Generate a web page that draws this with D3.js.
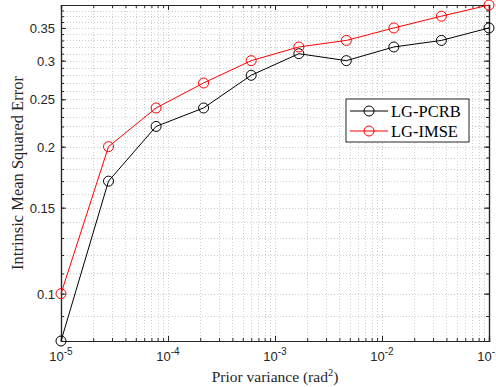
<!DOCTYPE html>
<html>
<head>
<meta charset="utf-8">
<script src="https://cdn.jsdelivr.net/npm/d3@7"></script>
<style>
  body { margin: 0; background: #fff; }
  svg { display: block; }
</style>
</head>
<body>
<svg id="chart" width="496" height="387"></svg>
<script>
// ---- data ----
var priorVar = [1e-5, 2.78e-5, 7.74e-5, 2.15e-4, 5.99e-4, 1.67e-3, 4.64e-3, 1.29e-2, 3.59e-2, 1e-1];
var pcrb = [0.08, 0.17, 0.22, 0.24, 0.28, 0.31, 0.30, 0.32, 0.33, 0.35];
var imse = [0.10, 0.20, 0.24, 0.27, 0.30, 0.32, 0.33, 0.35, 0.37, 0.39];
var seriesNames = ["LG-PCRB", "LG-IMSE"];
var seriesColors = ["#000000", "#ff0000"];

var xMajor = [1e-5, 1e-4, 1e-3, 1e-2, 1e-1];
var xExp = ["-5", "-4", "-3", "-2", "-1"];
var yMajor = [0.1, 0.15, 0.2, 0.25, 0.3, 0.35];
var yLabels = ["0.1", "0.15", "0.2", "0.25", "0.3", "0.35"];
var yMinor = [0.08, 0.09, 0.1, 0.11, 0.12, 0.13, 0.14, 0.15, 0.16, 0.17, 0.18, 0.19, 0.2,
  0.21, 0.22, 0.23, 0.24, 0.25, 0.26, 0.27, 0.28, 0.29, 0.3, 0.31, 0.32, 0.33, 0.34, 0.35,
  0.36, 0.37, 0.38, 0.39];
var xMinor = [];
[1e-5, 1e-4, 1e-3, 1e-2].forEach(function(d) {
  [2, 3, 4, 5, 6, 7, 8, 9].forEach(function(m) { xMinor.push(d * m); });
});

// ---- layout ----
var axL = 61, axR = 489, axT = 5, axB = 341;
var svg = d3.select("#chart");

var x = d3.scaleLog().domain([1e-5, 1e-1]).range([axL, axR]);
var y = d3.scaleLog().domain([0.08, 0.39]).range([axB, axT]);

// ---- grid (dotted) ----
var grid = svg.append("g").attr("class", "grid");
grid.selectAll(".gx").data(xMinor.concat(xMajor)).enter().append("line")
  .attr("x1", function(d) { return Math.round(x(d)) + 0.5; })
  .attr("x2", function(d) { return Math.round(x(d)) + 0.5; })
  .attr("y1", axT).attr("y2", axB)
  .attr("stroke", "#cfcfcf")
  .attr("stroke-width", 1)
  .attr("stroke-dasharray", "1,2");
grid.selectAll(".gy").data(yMinor).enter().append("line")
  .attr("x1", axL).attr("x2", axR)
  .attr("y1", function(d) { return Math.round(y(d)) + 0.5; })
  .attr("y2", function(d) { return Math.round(y(d)) + 0.5; })
  .attr("stroke", "#cfcfcf")
  .attr("stroke-width", 1)
  .attr("stroke-dasharray", "1,2");

// ---- axes, ticks inward like matlab ----
function tickAxis(axis, vals, size) {
  return axis.tickValues(vals).tickSize(size).tickFormat("");
}
var axes = svg.append("g").attr("class", "axes");
axes.append("g").attr("transform", "translate(0," + axB + ")")
  .call(tickAxis(d3.axisBottom(x), xMinor, -3));
axes.append("g").attr("transform", "translate(0," + axB + ")")
  .call(tickAxis(d3.axisBottom(x), xMajor, -5));
axes.append("g").attr("transform", "translate(0," + axT + ")")
  .call(tickAxis(d3.axisTop(x), xMinor, -3));
axes.append("g").attr("transform", "translate(0," + axT + ")")
  .call(tickAxis(d3.axisTop(x), xMajor, -5));
axes.append("g").attr("transform", "translate(" + axL + ",0)")
  .call(tickAxis(d3.axisLeft(y), yMinor, -3));
axes.append("g").attr("transform", "translate(" + axL + ",0)")
  .call(tickAxis(d3.axisLeft(y), yMajor, -5));
axes.append("g").attr("transform", "translate(" + axR + ",0)")
  .call(tickAxis(d3.axisRight(y), yMinor, -3));
axes.append("g").attr("transform", "translate(" + axR + ",0)")
  .call(tickAxis(d3.axisRight(y), yMajor, -5));
axes.selectAll("path.domain").attr("stroke", "#262626").attr("stroke-width", 1.2);
axes.selectAll(".tick line").attr("stroke", "#262626").attr("stroke-width", 1);

// tick labels
var xt = svg.append("g").selectAll("text").data(xMajor).enter().append("text")
  .attr("x", function(d) { return x(d); })
  .attr("y", 361)
  .attr("text-anchor", "middle")
  .style("font-family", "Liberation Sans, Arial, sans-serif")
  .style("font-size", "13px")
  .style("fill", "#262626");
xt.append("tspan").text("10");
xt.append("tspan").attr("dy", -6).style("font-size", "10px")
  .text(function(d, i) { return xExp[i]; });

svg.append("g").selectAll("text").data(yMajor).enter().append("text")
  .attr("x", axL - 6)
  .attr("y", function(d) { return y(d) + 5; })
  .attr("text-anchor", "end")
  .style("font-family", "Liberation Sans, Arial, sans-serif")
  .style("font-size", "13px")
  .style("fill", "#262626")
  .text(function(d, i) { return yLabels[i]; });

// axis titles
var xl = svg.append("text")
  .attr("x", (axL + axR) / 2)
  .attr("y", 382)
  .attr("text-anchor", "middle")
  .style("font-family", "Liberation Serif, serif")
  .style("font-size", "15.5px")
  .style("fill", "#262626");
xl.append("tspan").text("Prior variance (rad");
xl.append("tspan").attr("dy", -6).style("font-size", "10.5px").text("2");
xl.append("tspan").attr("dy", 6).text(")");

svg.append("text")
  .attr("transform", "translate(23," + ((axT + axB) / 2) + ") rotate(-90)")
  .attr("text-anchor", "middle")
  .style("font-family", "Liberation Serif, serif")
  .style("font-size", "16.5px")
  .style("fill", "#262626")
  .text("Intrinsic Mean Squared Error");

// ---- series ----
var line = d3.line()
  .x(function(d) { return x(d[0]); })
  .y(function(d) { return y(d[1]); });
var series = [pcrb, imse].map(function(vals, i) {
  return { name: seriesNames[i], color: seriesColors[i],
    pts: vals.map(function(v, j) { return [priorVar[j], v]; }) };
});
var sg = svg.append("g").selectAll("g").data(series).enter().append("g");
sg.append("path")
  .attr("d", function(d) { return line(d.pts); })
  .attr("fill", "none")
  .attr("stroke", function(d) { return d.color; })
  .attr("stroke-width", 1);
sg.selectAll("circle").data(function(d) { return d.pts.map(function(p) { return { p: p, c: d.color }; }); })
  .enter().append("circle")
  .attr("cx", function(d) { return x(d.p[0]); })
  .attr("cy", function(d) { return y(d.p[1]); })
  .attr("r", 5)
  .attr("fill", "none")
  .attr("stroke", function(d) { return d.c; })
  .attr("stroke-width", 1);

// ---- legend ----
var leg = svg.append("g").attr("transform", "translate(346,99)");
leg.append("rect")
  .attr("width", 123).attr("height", 43)
  .attr("fill", "#fff")
  .attr("stroke", "#262626")
  .attr("stroke-width", 1);
var li = leg.selectAll(".li").data(series).enter().append("g")
  .attr("transform", function(d, i) { return "translate(0," + (12 + i * 20) + ")"; });
li.append("line")
  .attr("x1", 4).attr("x2", 42)
  .attr("stroke", function(d) { return d.color; })
  .attr("stroke-width", 1);
li.append("circle")
  .attr("cx", 23).attr("r", 5)
  .attr("fill", "none")
  .attr("stroke", function(d) { return d.color; });
li.append("text")
  .attr("x", 45).attr("y", 5.5)
  .style("font-family", "Liberation Serif, serif")
  .style("font-size", "16.5px")
  .style("fill", "#000")
  .text(function(d) { return d.name; });
</script>
</body>
</html>
